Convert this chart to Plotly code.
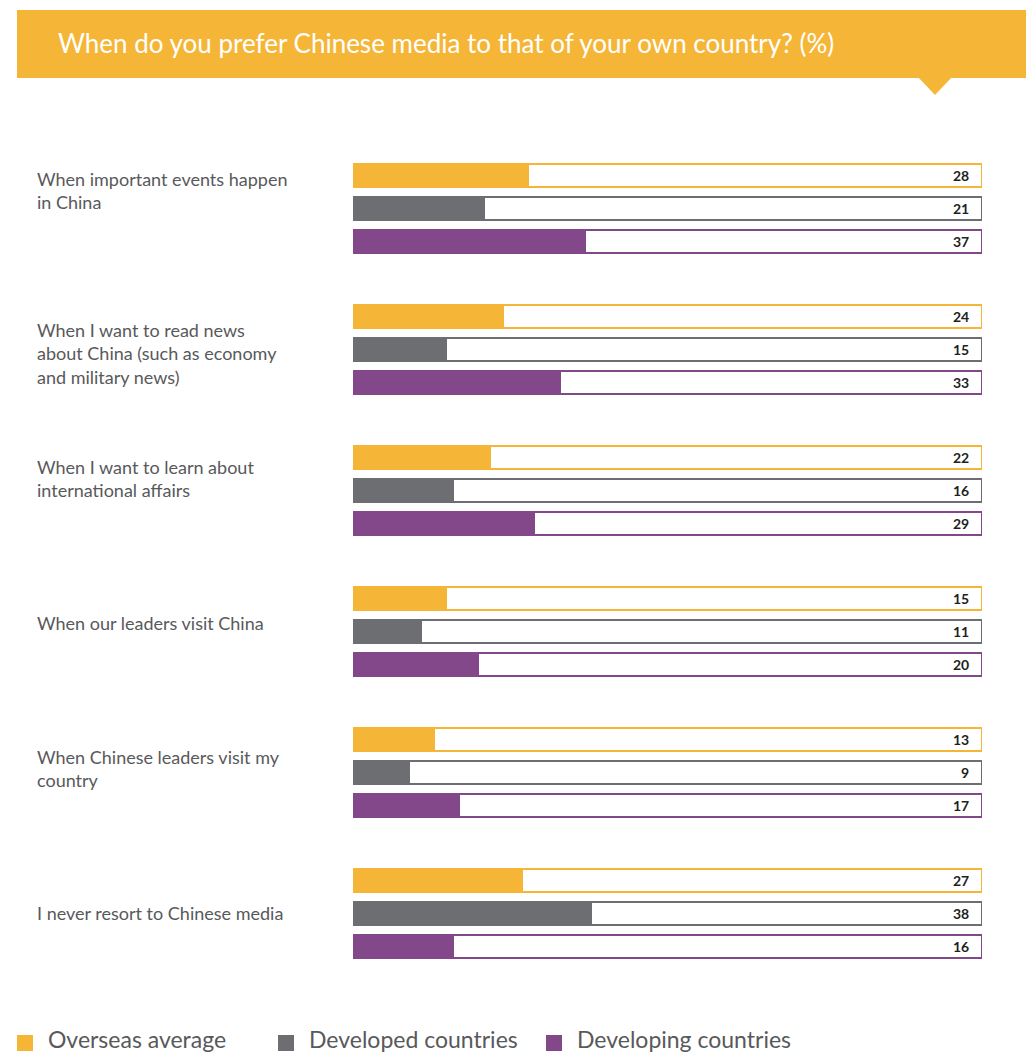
import plotly.graph_objects as go

# ---------------- data ----------------
categories = [
    "When important events happen<br>in China",
    "When I want to read news<br>about China (such as economy<br>and military news)",
    "When I want to learn about<br>international affairs",
    "When our leaders visit China",
    "When Chinese leaders visit my<br>country",
    "I never resort to Chinese media",
]
series_names = ["Overseas average", "Developed countries", "Developing countries"]
overseas = [28, 24, 22, 15, 13, 27]
developed = [21, 15, 16, 11, 9, 38]
developing = [37, 33, 29, 20, 17, 16]
colors = ["#F5B638", "#6D6E71", "#824889"]
title_text = "When do you prefer Chinese media to that of your own country? (%)"

# ---------------- layout constants (page pixels) ----------------
W, H = 1026, 1054
X0, X1 = 353, 982
GROUP0, GROUP_STEP, BAR_STEP, BAR_H = 208, 141, 33, 23
label_y = [190, 353, 478, 623, 768, 913]
TEXT_COLOR = "#58595B"


def px_x(px):
    """page pixel x -> data x"""
    return (px - X0) / (X1 - X0) * 100


def px_xp(px):
    """page pixel x -> paper x"""
    return px / W


series_vals = [overseas, developed, developing]

fig = go.Figure()
for s, (name, vals, col) in enumerate(zip(series_names, series_vals, colors)):
    ys = [GROUP0 + g * GROUP_STEP + (s - 1) * BAR_STEP for g in range(len(categories))]
    fig.add_trace(go.Bar(
        x=[100] * len(vals), y=ys, orientation="h", width=BAR_H,
        marker=dict(color="white", line=dict(color=col, width=2)),
        showlegend=False, hoverinfo="skip",
    ))
    fig.add_trace(go.Bar(
        x=vals, y=ys, orientation="h", width=BAR_H - 2, name=name,
        marker=dict(color=col, line=dict(width=0)),
        showlegend=False,
    ))
    for v, y in zip(vals, ys):
        fig.add_annotation(x=px_x(971), y=y, xref="x", yref="y", text=f"<b>{v}</b>",
                           showarrow=False, xanchor="right", yanchor="middle",
                           font=dict(family="Lato", size=14, color="#231F20"))

for cat, y in zip(categories, label_y):
    fig.add_annotation(x=px_xp(35), y=y, xref="paper", yref="y", text=cat,
                       showarrow=False, xanchor="left", yanchor="middle", align="left",
                       font=dict(family="Lato", size=18, color=TEXT_COLOR))

# header banner
fig.add_shape(type="rect", xref="paper", yref="y", x0=px_xp(17), x1=1, y0=10, y1=78,
              fillcolor=colors[0], line=dict(width=0), layer="below")
fig.add_shape(type="path", xref="x", yref="y",
              path="M {} {} L {} {} L {} {} Z".format(px_x(918), 77, px_x(952), 77,
                                                      px_x(935), 95),
              fillcolor=colors[0], line=dict(width=0), layer="below")
fig.add_annotation(x=px_xp(56), y=43, xref="paper", yref="y", text=title_text,
                   showarrow=False, xanchor="left", yanchor="middle",
                   font=dict(family="Lato", size=26, color="white"))

# legend
legend_x = [17, 278, 546]
for name, col, lx in zip(series_names, colors, legend_x):
    fig.add_shape(type="rect", xref="paper", yref="y", x0=px_xp(lx), x1=px_xp(lx + 16),
                  y0=1035, y1=1051, fillcolor=col, line=dict(width=0))
    fig.add_annotation(x=px_xp(lx + 29), y=1039, xref="paper", yref="y", text=name,
                       showarrow=False, xanchor="left", yanchor="middle",
                       font=dict(family="Lato", size=23, color=TEXT_COLOR))

fig.update_layout(
    width=W, height=H, margin=dict(l=0, r=0, t=0, b=0),
    paper_bgcolor="white", plot_bgcolor="white",
    barmode="overlay", bargap=0,
    xaxis=dict(domain=[X0 / W, X1 / W], range=[0, 100], visible=False, fixedrange=True),
    yaxis=dict(domain=[0, 1], range=[H, 0], visible=False, fixedrange=True),
)

fig.write_html("out.html",
               config={"displayModeBar": False},
               post_script="document.body.style.margin='0px';document.body.style.overflow='hidden';")
